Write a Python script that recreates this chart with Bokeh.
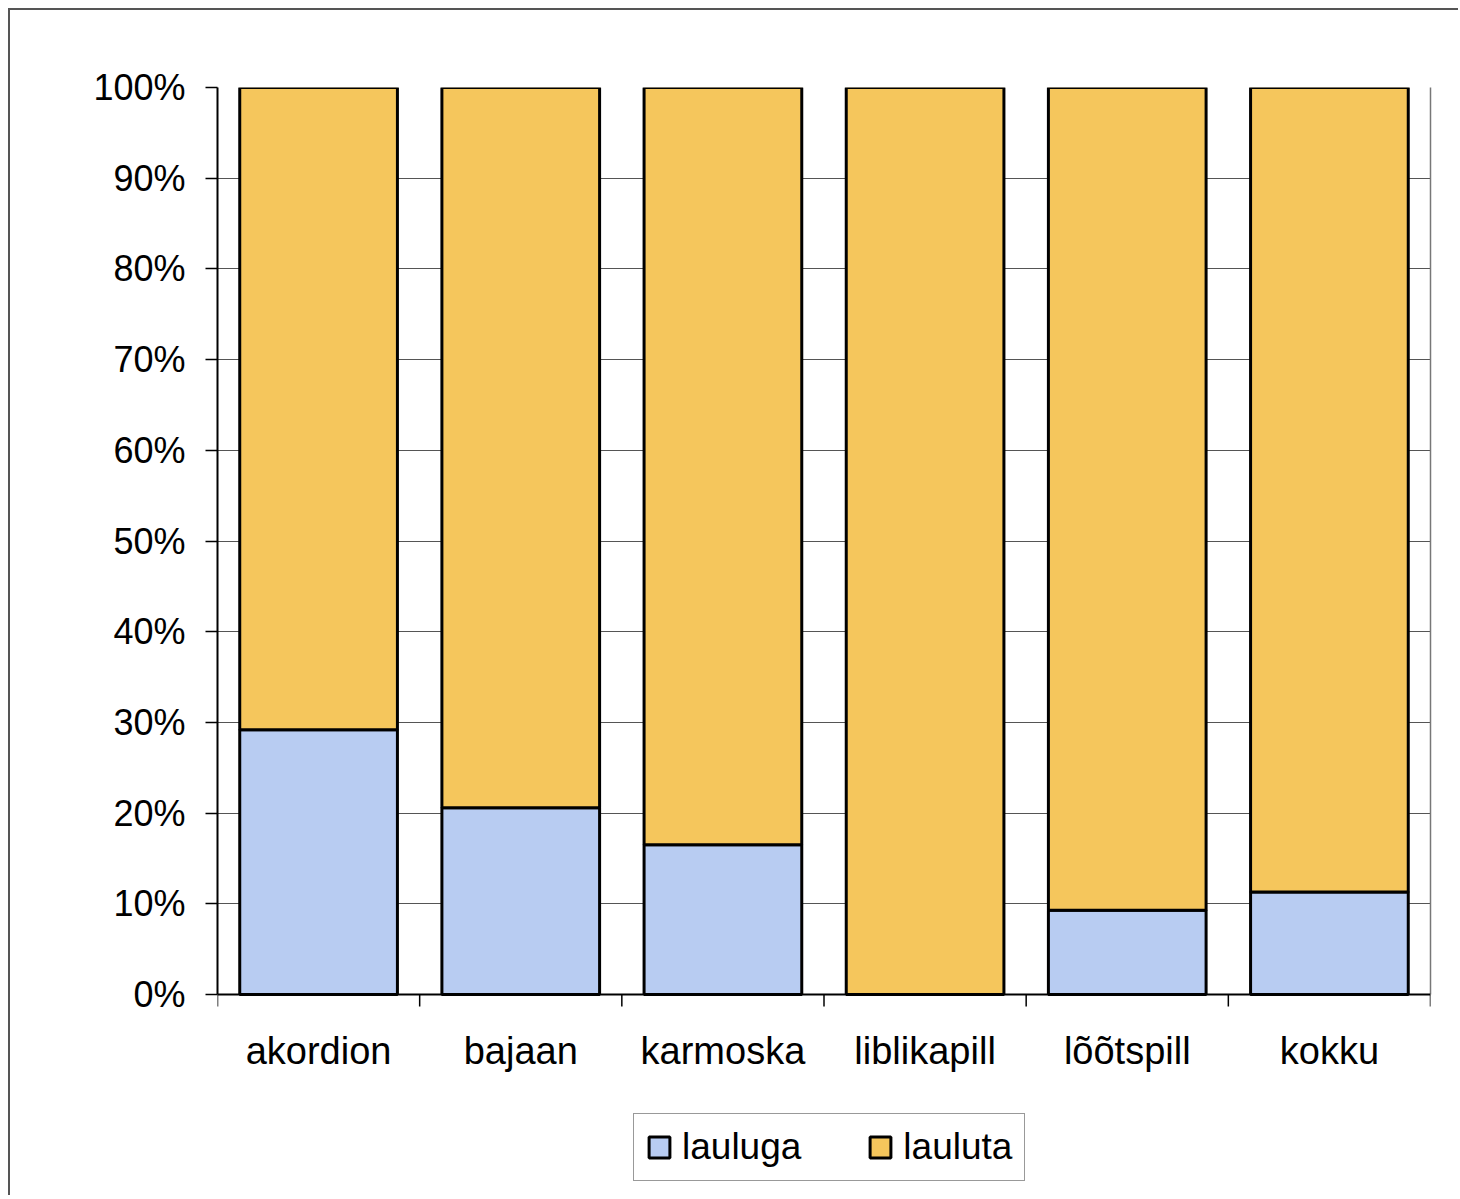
import math
from bokeh.plotting import figure
from bokeh.models import (Range1d, FixedTicker, NumeralTickFormatter, LinearAxis,
                          Legend, LegendItem, Span)
from bokeh.core.properties import value
from bokeh.embed import file_html
from bokeh.resources import INLINE

categories = ["akordion", "bajaan", "karmoska", "liblikapill", "lõõtspill", "kokku"]
series = ["lauluga", "lauluta"]
lauluga = [0.292, 0.206, 0.165, 0.0, 0.093, 0.113]
lauluta = [0.708, 0.794, 0.835, 1.0, 0.907, 0.887]
y_ticks = [0.0, 0.1, 0.2, 0.3, 0.4, 0.5, 0.6, 0.7, 0.8, 0.9, 1.0]
colors = ["#B8CCF2", "#F5C65C"]

FONT = "Liberation Sans"

n = len(categories)
x_pos = [i + 0.5 for i in range(n)]
boundaries = list(range(n + 1))
data = {"x": x_pos, "lauluga": lauluga, "lauluta": lauluta}

# frame extends below 0 to host category labels and legend
p = figure(frame_width=1213, frame_height=1108, output_backend="svg", toolbar_location=None,
           x_range=Range1d(0, n), y_range=Range1d(-0.2216, 1),
           x_axis_location=None)
p.min_border_left = 207
p.min_border_top = 77
p.min_border_right = 28
p.min_border_bottom = 0
p.styles = {"border-left": "2px solid #555", "border-top": "2px solid #555",
            "margin-left": "8px", "margin-top": "8px"}
p.background_fill_color = "white"
p.border_fill_color = "white"
p.outline_line_color = None
p.xgrid.grid_line_color = None

renderers = p.vbar_stack(series, x="x", width=0.78, source=data, color=colors,
                         line_color="black", line_width=3)

# category axis: baseline, boundary ticks and labels
p.add_layout(Span(location=0, dimension="width", line_color="black", line_width=2))
p.ray(x=boundaries, y=[0] * len(boundaries), length=12, length_units="screen",
      angle=-math.pi / 2, line_color="black", line_width=1.5)
p.text(x=x_pos, y=[0] * n, text=categories, text_align="center", text_baseline="middle",
       y_offset=56, text_font=value(FONT), text_font_size="38px", text_color="black")

# y axis
p.yaxis.bounds = (0, 1)
p.yaxis.ticker = FixedTicker(ticks=y_ticks)
p.yaxis.formatter = NumeralTickFormatter(format="0%")
p.yaxis.major_tick_out = 12
p.yaxis.major_tick_in = 0
p.yaxis.major_tick_line_color = "black"
p.yaxis.major_tick_line_width = 1.5
p.yaxis.minor_tick_line_color = None
p.yaxis.major_label_standoff = 20
p.yaxis.major_label_text_font = FONT
p.yaxis.major_label_text_font_size = "36px"
p.yaxis.major_label_text_color = "black"
p.yaxis.axis_line_color = "black"
p.yaxis.axis_line_width = 2
p.ygrid.ticker = FixedTicker(ticks=y_ticks)
p.ygrid.grid_line_color = "#555"
p.ygrid.grid_line_width = 1.2

# right frame edge of the plot area
right = LinearAxis(bounds=(0, 1), ticker=FixedTicker(ticks=[]), major_label_text_font_size="0px",
                   axis_line_color="#777", axis_line_width=1.5, major_tick_line_color=None,
                   minor_tick_line_color=None)
p.add_layout(right, "right")

legend = Legend(items=[LegendItem(label=s, renderers=[r]) for s, r in zip(series, renderers)],
                orientation="horizontal", location=(416, 14),
                label_text_font=FONT, label_text_font_size="37px", label_text_color="black",
                label_standoff=10, glyph_width=26, glyph_height=26, spacing=66,
                padding=12, border_line_color="#333", border_line_width=1.5,
                background_fill_alpha=1, margin=0)
p.add_layout(legend, "center")

open("out.html", "w").write(file_html(p, INLINE))
